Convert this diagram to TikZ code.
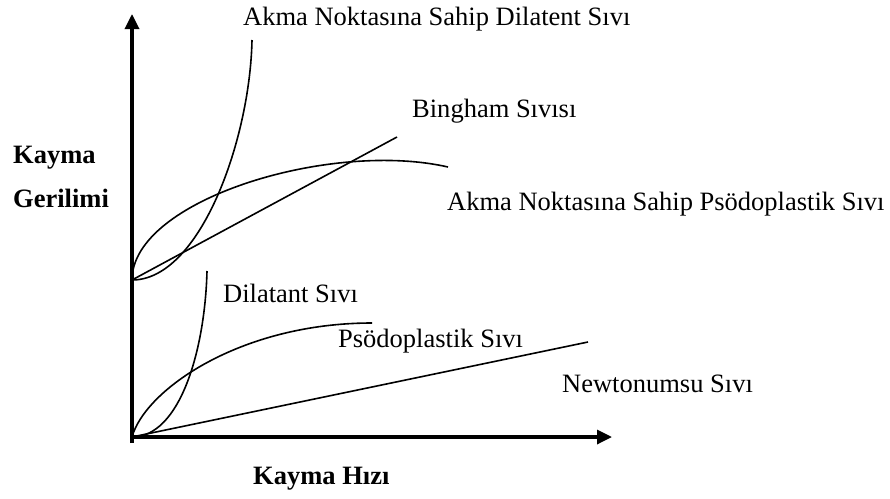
\documentclass[tikz,border=0pt]{standalone}
\usepackage{fontspec}
\setmainfont{Liberation Serif}
\usetikzlibrary{arrows.meta}

\begin{document}
\begin{tikzpicture}[
		x=1pt, y=-1pt,
		axis/.style={line width=3.3pt, -{Triangle[length=15pt, width=14pt]}},
		curve/.style={line width=1.6pt},
		lbl/.style={anchor=base west, inner sep=0pt, font=\fontsize{26.5}{30}\selectfont},
		axlbl/.style={lbl, font=\fontsize{26.5}{30}\selectfont\bfseries}
	]
	\useasboundingbox (0,0) rectangle (890,498);

	% axis points
	\coordinate (O) at (132,437);
	\coordinate (ybot) at (132,443);
	\coordinate (ytop) at (132,14);
	\coordinate (xend) at (612,437);
	\coordinate (Y) at (132,280);

	% curve end points
	\coordinate (ydil) at (252,40);
	\coordinate (bing) at (397,137);
	\coordinate (ypsd) at (448,167);
	\coordinate (dil) at (207,271);
	\coordinate (psd) at (372,323);
	\coordinate (newt) at (588,342);

	\node[lbl] (Lydil) at (243,25) {Akma Noktasına Sahip Dilatent Sıvı};
	\node[lbl] (Lbing) at (412,117) {Bingham Sıvısı};
	\node[lbl] (Lypsd) at (447,210) {Akma Noktasına Sahip Psödoplastik Sıvı};
	\node[lbl] (Ldil) at (223,302) {Dilatant Sıvı};
	\node[lbl] (Lpsd) at (338,347) {Psödoplastik Sıvı};
	\node[lbl] (Lnewt) at (562,392) {Newtonumsu Sıvı};
	\node[axlbl] (Ly1) at (13,163) {Kayma};
	\node[axlbl] (Ly2) at (13,207) {Gerilimi};
	\node[axlbl] (Lx) at (253,484) {Kayma Hızı};

	\draw[axis] (ybot) -- (ytop);
	\draw[axis] ([xshift=-1.6pt]O) -- (xend);

	\foreach \i/\j in {Y/bing, O/newt}
		\draw[curve] (\i) -- (\j);

	\draw[curve] (Y) .. controls (200,280) and (250,140) .. (ydil);
	\draw[curve] (Y) .. controls (132,200) and (330,140) .. (ypsd);
	\draw[curve] (O) .. controls (180,437) and (205,350) .. (dil);
	\draw[curve] (O) .. controls (145,390) and (240,323) .. (psd);

\end{tikzpicture}
\end{document}
